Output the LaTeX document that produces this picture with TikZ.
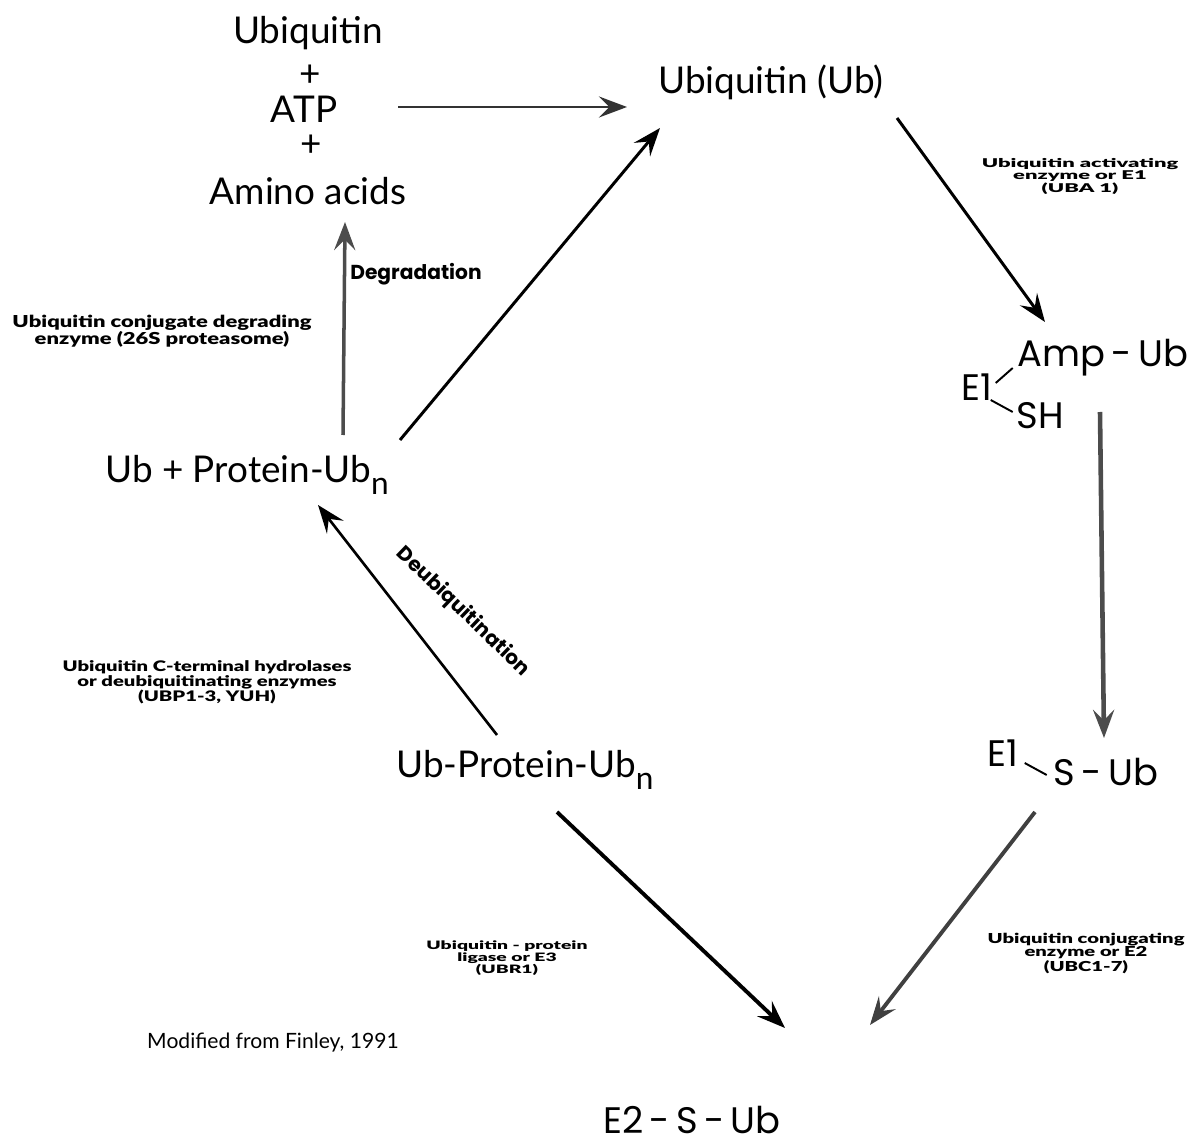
\documentclass[tikz,border=0pt]{standalone}
\usepackage{fontspec}
\setmainfont{Lato}
\newfontfamily\geo{Poppins}
\newfontfamily\heavy{Lato Black}
\usetikzlibrary{arrows.meta}

% squashed enzyme labels, as in the scanned figure
\newcommand{\enz}[2][0.6]{\scalebox{1}[#1]{\renewcommand{\arraystretch}{0.8}\begin{tabular}{@{}c@{}}#2\end{tabular}}}
\newcommand{\subn}{\raisebox{-7pt}{\fontsize{18}{18}\selectfont n}}

\tikzset{
  species/.style={inner sep=0pt, font=\fontsize{21}{24}\selectfont},
  chem/.style={inner sep=0pt, font=\geo\fontsize{21}{24}\selectfont},
  enzyme/.style={inner sep=0pt, font=\heavy\fontsize{11.5}{13}\selectfont},
  tag/.style={inner sep=0pt, font=\geo\bfseries\fontsize{11.5}{13}\selectfont},
  rxn/.style={-{Stealth[length=16pt,width=12pt,inset=6pt]}, line width=1.7pt},
  heavy/.style={rxn, line width=2.2pt},
  grainy/.style={rxn, line width=2.6pt, black!70},
  bond/.style={line width=1.1pt}
}

\begin{document}
\begin{tikzpicture}[x=0.02cm, y=-0.02cm]
  \useasboundingbox (0,0) rectangle (1191,1145);

  % starting materials
  \node[species] (ubq)   at (308,33)  {Ubiquitin};
  \node[species] (plus1) at (310,76)  {+};
  \node[species] (atp)   at (304,109) {ATP};
  \node[species] (plus2) at (311,146) {+};
  \node[species] (amino) at (308,191) {Amino acids};

  % cycle
  \node[species] (ub)   at (771,82)  {Ubiquitin (Ub)};
  \node[species] (ubp)  at (247,475) {Ub + Protein-Ub\subn};
  \node[species] (ubpu) at (525,770) {Ub-Protein-Ub\subn};

  \node[chem] (e1a) at (977,387)  {E1};
  \node[chem] (amp) at (1103,358) {Amp\,-\,Ub};
  \node[chem] (sh)  at (1040,416) {SH};
  \node[chem] (e1b) at (1003,753) {E1};
  \node[chem] (sub) at (1106,772) {S\,-\,Ub};
  \node[chem] (e2)  at (692,1120) {E2\,-\,S\,-\,Ub};

  \draw[bond] ([shift={(3,-4)}]e1a.east) -- ([shift={(20,-19)}]e1a.east);
  \draw[bond] ([shift={(-2,13)}]e1a.east) -- ([shift={(20,25)}]e1a.east);
  \draw[bond] ([shift={(6,10)}]e1b.east) -- ([shift={(28,22)}]e1b.east);

  % enzymes
  \node[enzyme, font=\heavy\fontsize{12.5}{13}\selectfont] (uba) at (1080,177) {\enz[0.55]{Ubiquitin activating\\enzyme or E1\\(UBA 1)}};
  \node[enzyme, font=\heavy\fontsize{12.5}{13}\selectfont] (prot) at (162,332) {\enz[0.75]{Ubiquitin conjugate degrading\\enzyme (26S proteasome)}};
  \node[enzyme] (ubp13) at (207,683) {\enz[0.72]{Ubiquitin C-terminal hydrolases\\or deubiquitinating enzymes\\(UBP1-3, YUH)}};
  \node[enzyme, font=\heavy\fontsize{11}{13}\selectfont] (ubr) at (507,959) {\enz[0.6]{Ubiquitin - protein\\ligase or E3\\(UBR1)}};
  \node[enzyme] (ubc) at (1086,954) {\enz[0.68]{Ubiquitin conjugating\\enzyme or E2\\(UBC1-7)}};
  \node[tag, anchor=west] (degr) at (350,274) {Degradation};
  \node[tag, rotate=-44] (deub) at (463,612) {Deubiquitination};

  \node[species, font=\fontsize{12}{14}\selectfont] (ref) at (273,1043) {Modified from Finley, 1991};

  % reactions
  \draw[rxn, black!80, line width=1.4pt] ([shift={(94,-2)}]atp.center) -- ([shift={(-144,25)}]ub.center);
  \draw[rxn] ([shift={(153,-35)}]ubp.center) -- ([shift={(-111,46)}]ub.center);
  \draw[rxn] ([shift={(126,36)}]ub.center) -- ([shift={(-58,-36)}]amp.center);
  \draw[grainy] ([shift={(-3,54)}]amp.center) -- ([shift={(-2,-34)}]sub.center);
  \draw[heavy, black!75] ([shift={(-71,40)}]sub.center) -- ([shift={(178,-95)}]e2.center);
  \draw[heavy] ([shift={(32,42)}]ubpu.center) -- ([shift={(93,-92)}]e2.center);
  \draw[rxn, line width=1.5pt] ([shift={(-28,-35)}]ubpu.center) -- ([shift={(71,30)}]ubp.center);
  \draw[grainy, line width=2pt] ([shift={(96,-40)}]ubp.center) -- ([shift={(37,31)}]amino.center);
\end{tikzpicture}
\end{document}
